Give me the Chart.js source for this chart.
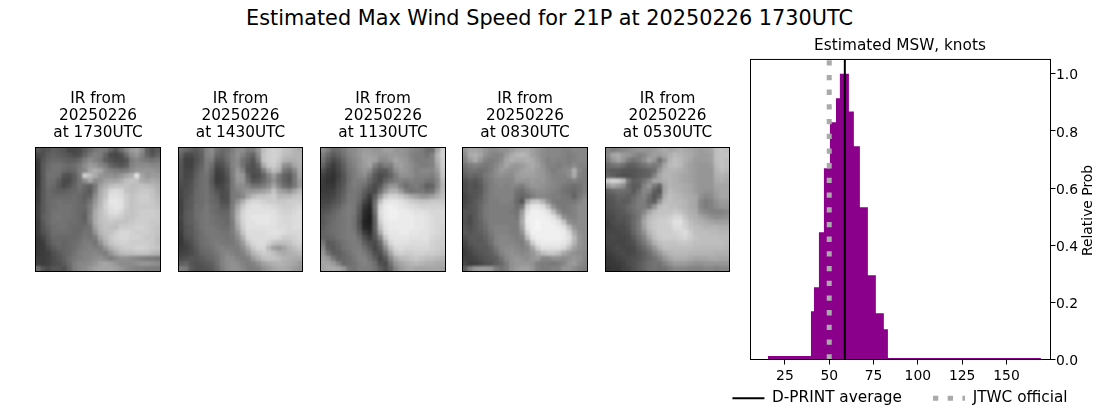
<!DOCTYPE html>
<html lang="en">
  <head>
    <meta charset="UTF-8" />
    <title>Estimated Max Wind Speed for 21P</title>
    <script src="https://cdn.jsdelivr.net/npm/chart.js"></script>
    <style>
      html, body { margin: 0; padding: 0; background: #fff; overflow: hidden; }
      body { width: 1100px; height: 409px; position: relative; font-family: "DejaVu Sans", sans-serif; }
      #suptitle { position: absolute; left: 0; top: 6px; width: 1099px; text-align: center; font-size: 20.8px; line-height: 24px; color: #000; }
      canvas { position: absolute; }
    </style>
  </head>
  <body>
    <div id="suptitle">Estimated Max Wind Speed for 21P at 20250226 1730UTC</div>
    <canvas id="ir0"></canvas>
    <canvas id="ir1"></canvas>
    <canvas id="ir2"></canvas>
    <canvas id="ir3"></canvas>
    <canvas id="ir4"></canvas>
    <canvas id="hist"></canvas>

    <script>
      // histogram (edges in knots, one height per bin)
      const binEdges = [15.4, 39.7, 41.4, 44.2, 47, 50.4, 53.8, 56, 61.1, 63.9, 67.3, 71.8, 76.3, 80.8, 83.1, 169.4];
      const binHeights = [0.012, 0.169, 0.253, 0.445, 0.669, 0.83, 0.914, 1.0, 0.868, 0.746, 0.533, 0.295, 0.162, 0.106, 0.005];
      const dprintAverage = 58.8;
      const jtwcOfficial = 50;
      const xTickStep = 25;
      const yTickStep = 0.2;

      const irTimes = ["1730UTC", "1430UTC", "1130UTC", "0830UTC", "0530UTC"];
      const irDate = "20250226";

      // coarse brightness grids of the IR images, estimated by eye
      const ir1730 = [
        [90,80,85,95,90,85,70,70,75,90,105,120,125,120,100,85,110,135,155,160,140,95,80,90],
        [70,80,95,100,95,90,85,75,80,100,120,130,125,100,75,70,80,110,140,150,130,100,85,100],
        [60,85,100,105,105,100,95,95,105,125,140,130,120,95,85,75,75,85,125,135,125,120,115,120],
        [55,90,105,115,115,110,105,110,120,140,155,150,135,125,100,90,85,95,130,140,140,140,135,135],
        [55,90,110,115,115,105,100,105,125,135,165,175,165,140,130,125,120,125,140,150,150,150,150,145],
        [55,90,115,115,110,85,80,95,120,205,190,170,150,145,145,140,150,165,175,225,165,150,155,155],
        [55,90,110,110,95,75,75,95,115,140,165,140,145,160,165,165,175,190,195,190,170,165,170,165],
        [55,90,110,105,90,75,85,100,115,105,95,120,160,175,190,195,195,195,190,190,195,190,185,175],
        [60,90,105,100,95,95,100,105,110,100,90,125,170,190,215,220,215,195,190,195,200,200,195,180],
        [60,90,105,105,105,105,105,110,105,95,100,140,175,195,225,225,220,205,195,200,205,205,195,185],
        [60,90,105,110,115,110,110,110,105,100,115,150,180,205,230,230,225,205,195,200,205,205,200,190],
        [65,90,105,110,115,115,115,110,105,105,125,160,185,210,225,230,225,205,195,200,200,200,200,195],
        [65,90,105,115,115,115,115,110,105,100,125,170,190,205,220,225,215,200,195,200,205,205,205,200],
        [65,95,105,115,120,115,115,110,105,95,130,170,190,200,210,210,205,195,195,200,205,205,205,200],
        [60,90,105,115,115,115,110,110,105,100,125,170,190,195,200,195,195,195,200,205,205,205,200,200],
        [60,85,100,110,115,115,110,105,105,110,115,160,185,195,190,190,205,205,205,210,210,205,200,195],
        [60,80,95,110,110,110,110,105,105,115,115,145,180,190,195,205,215,215,210,205,205,205,200,195],
        [55,70,90,105,105,105,105,105,110,120,115,125,165,185,200,210,215,215,210,210,205,200,200,190],
        [55,60,85,100,105,100,105,110,115,125,125,115,145,175,195,205,210,210,205,205,205,205,200,190],
        [55,60,75,90,100,100,105,110,120,125,130,125,125,150,175,190,200,205,205,210,210,205,200,195],
        [55,60,65,80,90,100,105,115,125,130,130,135,130,125,150,170,185,190,190,195,195,195,185,180],
        [60,60,65,75,85,95,110,120,125,130,135,140,145,135,125,135,145,145,140,135,130,125,125,120],
        [65,60,65,75,80,90,105,125,135,135,140,150,160,165,160,150,140,140,140,145,150,150,145,140],
        [110,85,75,85,85,80,100,125,135,140,150,160,165,165,165,160,150,140,135,130,130,125,125,125],
      ];
      const ir1430 = [
        [115,105,95,90,100,130,140,115,105,110,125,140,140,125,125,150,190,205,210,205,195,190,180,175],
        [100,75,75,85,95,130,135,105,100,115,130,145,130,110,100,140,195,205,210,205,190,185,180,180],
        [90,65,65,80,95,125,125,90,90,110,130,140,115,100,85,125,195,205,210,200,180,175,175,180],
        [85,65,65,85,100,125,110,75,80,100,130,140,115,90,80,100,170,200,205,190,145,140,165,175],
        [85,70,70,90,105,120,100,65,70,90,125,150,130,85,80,85,125,165,190,175,120,110,135,170],
        [85,70,75,95,110,115,95,60,65,85,125,155,150,100,75,80,100,130,155,125,100,90,120,165],
        [80,75,80,100,110,115,90,60,65,80,120,150,150,110,85,90,105,125,145,120,100,90,120,155],
        [75,75,85,100,110,115,95,70,70,85,120,140,140,130,115,115,125,140,165,135,110,100,120,155],
        [70,80,85,105,110,115,100,85,75,80,120,130,140,150,150,155,160,170,195,165,155,145,165,185],
        [70,80,90,105,110,115,105,95,75,80,120,125,135,165,185,195,195,200,205,185,185,185,195,200],
        [65,85,90,105,110,115,105,100,80,80,120,145,175,205,215,215,210,205,205,200,200,205,205,205],
        [65,85,90,110,110,120,110,105,90,90,125,165,200,220,225,225,220,220,215,210,205,205,210,215],
        [65,90,95,110,115,120,110,105,100,100,130,175,210,225,225,225,225,225,225,215,210,210,215,220],
        [70,90,95,110,115,120,115,110,105,105,130,180,215,225,230,230,230,230,225,220,215,215,220,220],
        [65,90,95,105,115,120,115,110,110,105,125,175,210,225,225,230,230,230,225,220,215,215,220,220],
        [65,85,90,105,115,120,120,115,110,110,125,165,205,225,225,225,225,225,225,220,220,215,220,220],
        [60,85,90,100,110,120,120,120,115,115,125,150,195,220,220,220,220,225,225,225,220,215,215,215],
        [55,80,85,100,110,115,120,120,120,115,120,140,175,215,220,220,220,220,220,215,205,205,210,215],
        [55,70,80,95,110,115,120,125,120,120,120,130,155,195,215,220,220,210,195,190,190,195,205,210],
        [60,65,75,90,105,110,115,125,130,125,125,125,140,170,200,215,215,185,160,150,165,180,190,200],
        [65,70,75,85,100,105,110,120,130,135,130,125,130,150,180,195,205,200,190,175,170,175,180,185],
        [75,80,85,85,90,100,105,115,130,140,140,130,125,130,155,175,190,195,195,190,180,175,170,170],
        [95,100,85,80,85,90,95,110,130,140,145,140,130,125,130,145,160,170,175,180,175,170,165,155],
        [125,120,90,80,80,85,90,105,125,140,145,145,135,125,125,130,145,155,165,170,170,165,155,150],
      ];
      const ir1130 = [
        [140,125,105,110,120,135,140,150,155,155,150,150,160,160,150,150,145,135,130,125,110,110,165,205],
        [125,105,90,100,115,130,140,150,160,160,155,150,150,155,155,150,145,130,125,125,115,130,180,210],
        [115,90,75,85,105,125,135,145,160,165,160,140,140,150,165,155,150,135,125,125,125,130,175,205],
        [100,75,60,75,95,120,130,145,155,165,130,110,125,125,155,160,150,140,130,125,125,130,165,205],
        [80,60,55,70,90,115,125,140,150,140,105,90,90,110,140,155,150,140,130,135,135,135,155,200],
        [65,55,50,65,85,110,125,135,140,120,90,75,85,100,125,145,145,140,130,130,130,125,145,195],
        [60,50,50,70,85,110,125,125,125,105,85,75,100,115,125,130,125,130,125,125,115,115,135,185],
        [60,55,55,75,90,115,125,120,110,90,75,90,125,150,150,125,110,120,125,115,95,100,135,180],
        [60,60,65,80,95,115,120,115,95,80,75,110,150,175,175,155,125,115,120,120,110,115,150,185],
        [65,65,70,85,100,120,120,110,85,60,95,150,195,210,210,200,185,170,160,150,150,160,175,190],
        [70,70,80,90,105,120,120,105,70,50,110,190,225,230,230,225,215,205,200,195,195,200,200,200],
        [75,80,90,100,115,125,120,95,55,40,115,215,235,240,235,230,225,220,215,210,210,210,210,210],
        [85,90,100,110,120,125,120,90,45,35,110,220,235,240,240,235,235,230,225,225,220,215,215,215],
        [90,100,105,115,120,125,115,85,40,30,100,215,235,240,240,235,235,235,230,230,225,220,215,215],
        [90,100,110,115,120,125,115,80,35,30,95,205,230,235,235,235,235,235,230,230,225,220,215,215],
        [95,105,110,115,120,125,115,85,40,35,95,190,225,235,235,235,235,235,230,230,225,220,215,210],
        [100,105,110,115,120,125,120,95,60,45,90,170,220,230,230,235,235,230,230,225,225,220,215,210],
        [100,100,105,115,120,125,125,110,80,60,85,130,200,225,230,230,230,225,225,225,225,215,210,205],
        [120,90,95,105,115,120,125,120,95,80,75,105,170,215,225,225,225,220,220,220,220,210,205,205],
        [135,95,90,100,115,120,125,125,110,90,70,90,140,190,215,220,215,215,215,215,215,210,205,200],
        [150,115,95,95,105,115,125,130,120,105,80,80,115,165,200,210,205,205,210,210,205,205,200,195],
        [160,150,120,100,105,110,120,130,130,115,95,70,90,135,170,185,190,195,200,195,190,190,185,180],
        [165,165,155,130,105,110,115,125,130,125,110,80,75,115,150,165,175,180,185,180,175,175,170,170],
        [165,170,170,165,150,120,115,125,125,125,115,95,80,100,135,155,165,170,165,165,165,165,165,160],
      ];
      const ir0830 = [
        [150,165,165,160,150,140,140,145,145,155,165,170,170,160,150,140,135,135,135,130,130,135,135,135],
        [140,170,175,165,145,135,130,135,155,170,180,185,175,160,150,140,135,135,135,130,125,130,135,135],
        [130,155,170,150,130,125,130,140,165,175,170,170,175,170,155,140,130,135,130,130,125,130,135,135],
        [115,125,130,125,120,125,135,150,165,155,150,155,165,170,160,145,130,130,125,130,130,140,130,130],
        [105,115,115,110,115,125,140,155,150,145,150,160,165,165,155,150,135,125,130,135,140,175,135,125],
        [95,105,100,105,120,130,140,145,140,140,155,160,160,160,155,150,140,130,130,130,140,170,130,125],
        [80,90,85,95,115,125,135,135,135,135,150,150,150,155,150,150,140,135,130,130,125,130,125,125],
        [75,85,80,90,110,125,130,135,130,135,130,125,140,150,150,145,140,135,130,120,115,110,115,125],
        [75,85,85,90,110,125,130,130,130,130,115,110,125,135,140,140,135,130,125,115,110,105,115,125],
        [70,80,85,95,115,125,130,130,130,130,110,100,110,125,135,135,130,125,125,120,115,100,120,135],
        [70,80,90,100,115,125,125,130,130,125,105,85,165,195,200,180,145,125,120,120,120,120,130,140],
        [75,85,90,105,120,125,125,125,125,125,110,120,210,230,230,220,190,145,125,120,125,130,140,140],
        [85,85,90,105,120,125,125,125,125,120,115,155,225,240,240,235,225,190,145,125,125,130,140,140],
        [85,75,90,105,120,125,125,125,125,125,120,165,235,240,240,240,235,225,195,145,130,130,140,140],
        [80,75,90,100,115,125,125,125,125,125,125,170,235,240,245,240,240,235,225,195,145,135,140,140],
        [85,80,90,100,110,125,130,130,130,125,125,160,230,240,245,240,240,240,235,225,190,150,140,140],
        [90,85,90,95,105,120,130,130,130,125,125,145,215,240,240,240,240,240,240,235,215,170,145,140],
        [80,90,90,90,100,115,130,135,135,130,125,130,190,230,240,240,240,240,240,235,225,185,150,140],
        [70,85,90,90,95,110,130,135,135,135,130,125,150,205,230,235,235,235,235,230,215,180,150,140],
        [65,75,85,90,90,100,120,135,140,140,135,130,135,165,205,225,225,225,225,215,190,160,145,140],
        [60,70,80,85,90,95,110,130,140,145,140,135,140,150,170,190,200,200,190,170,155,145,140,135],
        [65,65,70,80,85,90,95,115,135,145,150,145,140,150,155,135,135,145,145,140,145,150,145,135],
        [70,60,65,70,80,85,95,105,125,145,150,150,150,145,130,125,125,120,125,135,150,155,140,130],
        [95,130,150,155,155,150,125,115,125,145,155,160,160,150,130,125,125,130,130,150,150,140,130,125],
      ];
      const ir0530 = [
        [130,125,130,135,140,145,150,150,150,155,165,170,165,170,175,170,165,160,155,160,165,190,195,190],
        [135,165,170,155,150,140,130,135,150,160,155,165,175,185,180,175,170,160,155,155,160,190,195,195],
        [125,150,165,150,125,115,125,140,165,150,115,145,180,190,185,175,165,155,155,155,160,190,195,190],
        [105,115,120,110,95,95,105,115,125,120,130,165,185,190,185,170,160,155,150,150,155,185,195,190],
        [95,90,90,85,85,85,90,95,100,110,150,175,180,180,175,170,160,155,150,150,150,180,190,185],
        [100,95,85,80,80,85,90,95,100,130,165,180,180,175,170,165,160,155,150,150,150,175,180,175],
        [200,210,205,185,120,95,100,115,135,165,165,175,180,175,170,165,160,155,150,150,150,170,175,170],
        [150,165,155,140,105,90,95,130,150,120,100,165,180,175,175,170,165,155,150,150,150,165,165,165],
        [95,105,110,110,105,90,110,135,130,95,85,165,185,180,175,170,165,155,150,145,145,160,165,165],
        [85,90,100,100,95,105,120,130,110,85,105,175,190,185,180,175,170,165,145,135,140,155,165,165],
        [80,85,95,90,95,110,125,125,105,95,145,185,190,185,185,180,170,165,135,125,130,145,155,155],
        [80,85,90,95,105,115,125,125,115,150,185,195,190,190,185,180,170,165,135,125,130,140,150,150],
        [75,80,85,90,100,110,120,135,165,185,195,195,195,200,195,185,175,170,145,135,130,130,130,135],
        [70,75,85,85,90,105,120,155,185,195,200,200,205,215,215,195,180,175,165,155,145,140,140,145],
        [65,75,80,80,90,105,125,165,190,200,205,205,210,225,225,205,190,180,175,170,165,160,160,160],
        [65,70,75,75,85,105,125,160,190,200,205,205,205,220,220,210,195,190,185,180,180,180,175,175],
        [70,70,70,75,80,100,120,145,180,195,205,205,205,210,215,220,205,190,190,190,185,185,180,180],
        [70,75,70,70,75,90,110,130,165,190,200,205,205,205,210,215,205,195,190,190,190,190,185,185],
        [70,70,70,70,75,80,100,120,145,175,190,195,195,195,200,200,195,190,190,190,190,190,190,185],
        [65,70,75,70,70,75,90,105,125,150,175,190,190,190,190,190,190,185,185,185,185,185,185,180],
        [60,65,70,75,70,75,85,95,110,130,150,170,180,185,185,185,180,180,180,180,180,175,175,175],
        [55,60,65,70,75,80,85,95,105,115,130,150,165,175,175,175,170,165,165,165,170,170,165,165],
        [55,55,60,65,75,80,90,100,110,115,115,130,145,155,155,155,150,145,145,150,150,150,150,150],
        [50,55,55,65,70,80,90,100,110,115,110,115,125,135,135,135,130,130,130,135,135,130,135,135],
      ];
      const irGrids = [ir1730, ir1430, ir1130, ir0830, ir0530];

      const FONT = "'DejaVu Sans', sans-serif";
      Chart.defaults.font.family = FONT;
      Chart.defaults.color = "#000";
      Chart.defaults.animation = false;

      const frameBox = {
        id: "frameBox",
        afterDraw(chart) {
          const a = chart.chartArea;
          const ctx = chart.ctx;
          ctx.save();
          ctx.strokeStyle = "#000";
          ctx.lineWidth = 1;
          ctx.strokeRect(a.left, a.top, a.right - a.left, a.bottom - a.top);
          ctx.restore();
        },
      };

      // soften the grid cells so they read as a photo
      const softenCells = {
        id: "softenCells",
        afterDatasetsDraw(chart) {
          const a = chart.chartArea;
          const w = a.right - a.left;
          const h = a.bottom - a.top;
          const r = chart.currentDevicePixelRatio;
          const ctx = chart.ctx;
          ctx.save();
          ctx.beginPath();
          ctx.rect(a.left, a.top, w, h);
          ctx.clip();
          ctx.filter = "blur(0.9px)";
          ctx.drawImage(chart.canvas, a.left * r, a.top * r, w * r, h * r, a.left, a.top, w, h);
          ctx.restore();
        },
      };

      const panelLefts = [35.5, 178.5, 320.5, 462.5, 605.5];
      const panelWidths = [125, 124, 125, 125, 124];

      irGrids.forEach((grid, i) => {
        const canvas = document.getElementById("ir" + i);
        const cssLeft = Math.floor(panelLefts[i]) - 10;
        const pad = panelLefts[i] - cssLeft;
        canvas.width = panelWidths[i] + 2 * pad;
        canvas.height = 195;
        canvas.style.left = cssLeft + "px";
        canvas.style.top = "85px";

        const points = [];
        const colors = [];
        grid.forEach((row, r) => {
          row.forEach((v, c) => {
            points.push({ x: c, y: r });
            colors.push(`rgb(${v},${v},${v})`);
          });
        });

        new Chart(canvas, {
          type: "scatter",
          data: {
            datasets: [
              {
                data: points,
                backgroundColor: colors,
                borderWidth: 0,
                pointStyle: "rect",
                pointRadius: 3.95,
              },
            ],
          },
          options: {
            responsive: false,
            layout: { padding: { left: pad, right: pad, top: 0, bottom: 8.5 } },
            scales: {
              x: { display: false, min: -0.5, max: grid[0].length - 0.5 },
              y: { display: false, min: -0.5, max: grid.length - 0.5, reverse: true },
            },
            plugins: {
              legend: { display: false },
              tooltip: { enabled: false },
              title: {
                display: true,
                text: ["IR from", irDate, "at " + irTimes[i]],
                font: { size: 15.3, weight: "normal", lineHeight: 17 / 15.3 },
                color: "#000",
                padding: { top: 5.5, bottom: 6 },
              },
            },
          },
          plugins: [softenCells, frameBox],
        });
      });

      const histCanvas = document.getElementById("hist");
      histCanvas.width = 400;
      histCanvas.height = 379;
      histCanvas.style.left = "700px";
      histCanvas.style.top = "30px";

      const histPoints = binEdges.map((e, i) => ({
        x: e,
        y: i < binHeights.length ? binHeights[i] : binHeights[binHeights.length - 1],
      }));

      // legend items sit far apart, but the box under the axis is short:
      // keep the wide label padding and pull the drawing back up by that padding
      const LEGEND_GAP = 31;
      const legendSlim = {
        id: "legendSlim",
        beforeInit(chart) {
          const legend = chart.legend;
          const fit = legend.fit;
          const draw = legend._draw;
          legend.fit = function () {
            fit.call(this);
            this.height = 19.5;
          };
          legend._draw = function () {
            this.ctx.save();
            this.ctx.translate(0, 1 - LEGEND_GAP);
            draw.call(this);
            this.ctx.restore();
          };
        },
      };

      // the right axis title reads upward, which the library does not do by itself
      const rightAxisTitle = {
        id: "rightAxisTitle",
        afterDraw(chart) {
          const a = chart.chartArea;
          const ctx = chart.ctx;
          ctx.save();
          ctx.translate(a.right + 37.5, (a.top + a.bottom) / 2 + 1);
          ctx.rotate(-Math.PI / 2);
          ctx.textAlign = "center";
          ctx.textBaseline = "middle";
          ctx.fillStyle = "#000";
          ctx.font = "13.9px " + FONT;
          ctx.fillText("Relative Prob", 0, 0);
          ctx.restore();
        },
      };

      new Chart(histCanvas, {
        type: "line",
        data: {
          datasets: [
            {
              label: "D-PRINT average",
              data: [
                { x: dprintAverage, y: 0 },
                { x: dprintAverage, y: 1.05 },
              ],
              borderColor: "#000",
              borderWidth: 2,
              pointRadius: 0,
              order: 0,
            },
            {
              label: "JTWC official",
              data: [
                { x: jtwcOfficial, y: 0 },
                { x: jtwcOfficial, y: 1.05 },
              ],
              borderColor: "#aaaaaa",
              borderWidth: 5,
              borderDash: [5.3, 9.4],
              pointRadius: 0,
              order: 1,
            },
            {
              label: "hist",
              data: histPoints,
              stepped: "before",
              borderWidth: 0,
              borderColor: "rgba(0,0,0,0)",
              backgroundColor: "#8b008b",
              fill: "origin",
              pointRadius: 0,
              order: 2,
            },
          ],
        },
        options: {
          responsive: false,
          layout: { padding: 0 },
          scales: {
            x: {
              type: "linear",
              min: 5.6,
              max: 174.8,
              afterFit: (s) => { s.height = 30; },
              border: { color: "#000" },
              grid: { drawOnChartArea: false, tickLength: 5, tickColor: "#000" },
              ticks: {
                stepSize: xTickStep,
                includeBounds: false,
                maxRotation: 0,
                padding: 4,
                font: { size: 13.9 },
              },
            },
            y: {
              position: "right",
              min: 0,
              max: 1.05,
              afterFit: (s) => { s.width = 49.5; },
              border: { color: "#000" },
              grid: { drawOnChartArea: false, tickLength: 5, tickColor: "#000" },
              ticks: {
                stepSize: yTickStep,
                includeBounds: false,
                padding: 0.5,
                labelOffset: 2,
                font: { size: 13.9 },
                callback: (v) => v.toFixed(1),
              },
            },
            // empty spacer axis so the plot starts where the title and legend stay centred
            spacer: {
              position: "left",
              afterFit: (s) => { s.width = 50.5; },
              border: { display: false },
              grid: { display: false },
              ticks: { display: false },
            },
          },
          plugins: {
            tooltip: { enabled: false },
            title: {
              display: true,
              text: "Estimated MSW, knots",
              font: { size: 15.3, weight: "normal", lineHeight: 1.2 },
              color: "#000",
              padding: { top: 7, bottom: 4.1 },
            },
            legend: {
              position: "bottom",
              labels: {
                filter: (item) => item.text !== "hist",
                usePointStyle: true,
                pointStyle: "line",
                pointStyleWidth: 32,
                padding: LEGEND_GAP,
                color: "#000",
                font: { size: 15.3 },
                // the stock items lose the dash pattern when point styles are on
                generateLabels: (chart) =>
                  Chart.defaults.plugins.legend.labels.generateLabels(chart).map((item) => ({
                    ...item,
                    lineDash: chart.data.datasets[item.datasetIndex].borderDash,
                  })),
              },
            },
          },
        },
        plugins: [legendSlim, frameBox, rightAxisTitle],
      });
    </script>
  </body>
</html>
